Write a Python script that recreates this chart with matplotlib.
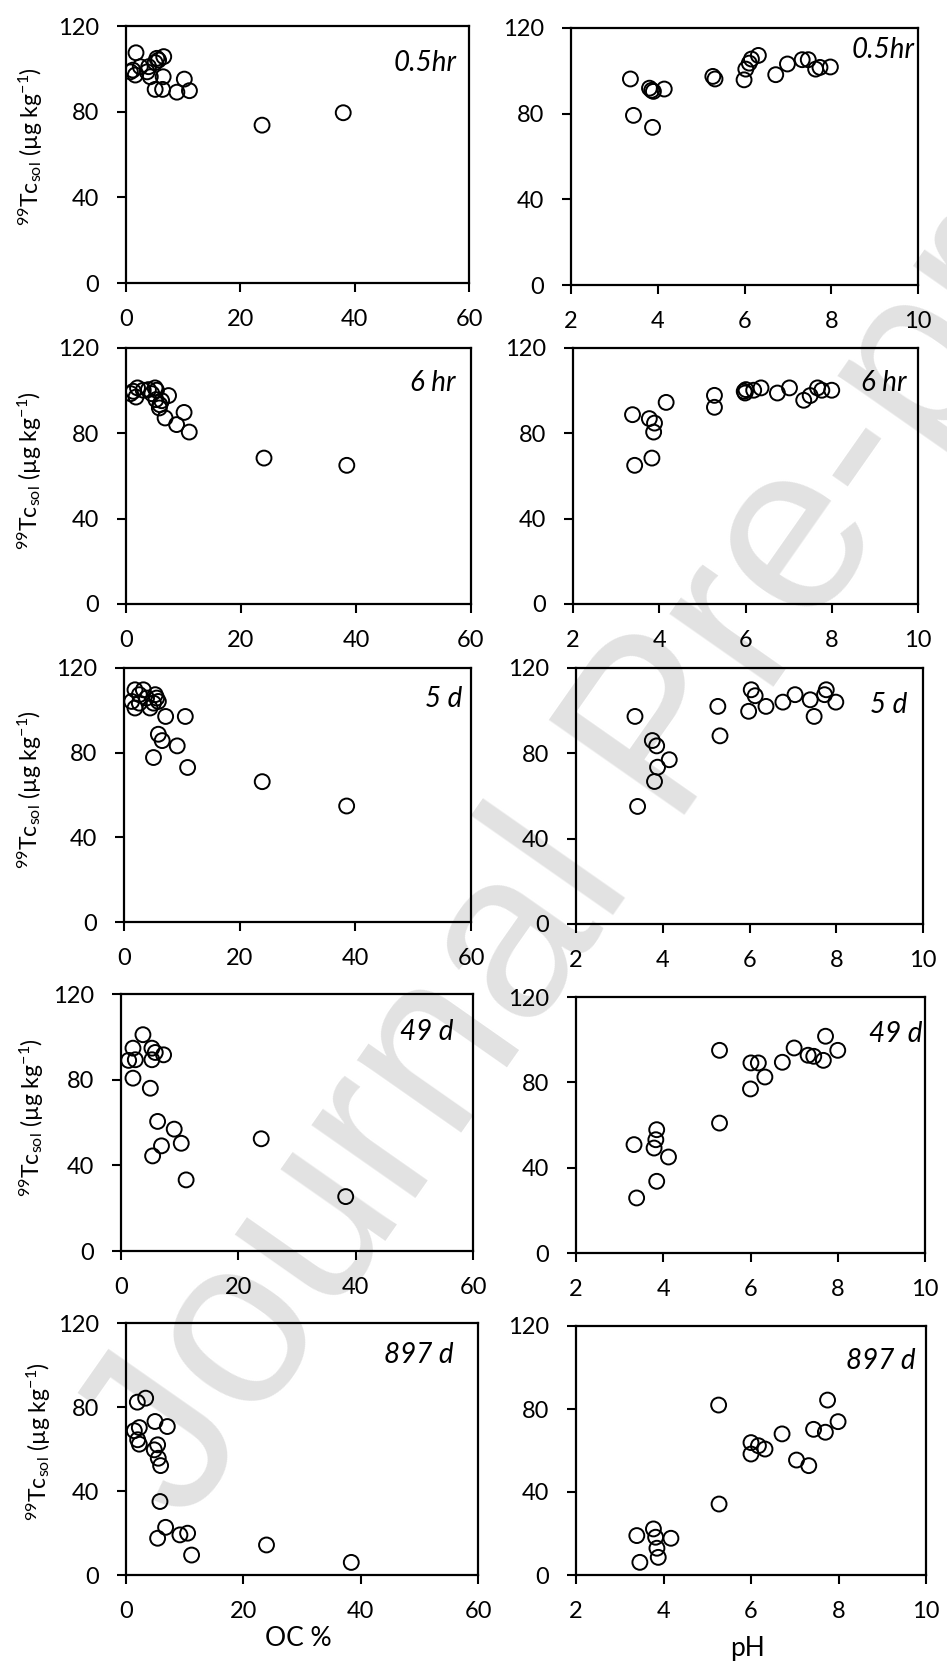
import matplotlib
matplotlib.use("Agg")
import matplotlib.pyplot as plt

plt.rcParams['font.family'] = ['Lato', 'DejaVu Sans']
plt.rcParams['mathtext.fontset'] = 'custom'
plt.rcParams['mathtext.rm'] = 'Lato'
plt.rcParams['mathtext.it'] = 'Lato:italic'

# ---------------- data ----------------
time_labels = ['0.5hr', '6 hr', '5 d', '49 d', '897 d']

oc_05 = [1.75, 0.76, 1.63, 2.5, 3.96, 4.25, 5.1, 5.7, 6.6, 6.5, 5.1, 6.4, 8.9, 10.2, 11.1, 23.8, 38.0, 1.2, 3.7, 5.4]
tc_oc_05 = [107.5, 98.6, 97.1, 101, 101, 96.3, 102.9, 104.1, 105.7, 96.3, 90.4, 90.4, 89.1, 95.2, 89.8, 73.7, 79.5, 99.4, 98.6, 104.9]
ph_05 = [3.37, 3.44, 3.81, 3.86, 3.90, 3.88, 4.15, 5.27, 5.32, 5.99, 6.03, 6.11, 6.16, 6.32, 6.72, 6.99, 7.33, 7.47, 7.64, 7.74, 7.98]
tc_ph_05 = [96.2, 79.2, 91.9, 90.9, 90.4, 73.6, 91.5, 97.4, 96.2, 95.8, 100.8, 103.6, 105.5, 107.2, 98.2, 103.2, 105.2, 105.2, 100.8, 101.6, 101.8]

oc_6h = [1.28, 1.74, 2.0, 3.0, 3.9, 5.05, 5.3, 5.2, 5.9, 5.8, 7.4, 6.8, 8.8, 10.1, 11.0, 24.0, 38.4, 0.8, 4.5, 6.2]
tc_oc_6h = [99.7, 97, 101.3, 100.2, 100.5, 101.3, 100.2, 95.8, 93.4, 91.9, 97.7, 87.2, 84.1, 89.8, 80.6, 68.4, 65.0, 98.6, 98.6, 95.3]
ph_6h = [3.38, 3.43, 3.77, 3.89, 3.87, 3.83, 4.16, 5.28, 5.28, 5.97, 6.01, 6.19, 6.36, 6.74, 7.02, 7.35, 7.50, 7.67, 7.77, 8.0, 5.99]
tc_ph_6h = [88.75, 65, 86.9, 84.8, 80.6, 68.4, 94.5, 97.8, 92.2, 99.7, 100.5, 100.2, 101.3, 98.9, 101.3, 95.5, 97.7, 101.3, 100.2, 100.2, 98.9]

oc_5d = [1.9, 1.33, 1.9, 3.35, 2.65, 4.5, 5.4, 5.65, 5.94, 5.1, 7.2, 10.6, 5.94, 6.6, 9.2, 5.1, 11.0, 23.9, 38.5, 3.9, 2.65]
tc_oc_5d = [109.7, 104.2, 101.1, 109.7, 107.4, 101.1, 107.4, 105.8, 104.2, 103.4, 97.1, 97.1, 88.7, 85.7, 83.2, 77.7, 73.0, 66.3, 54.8, 105.8, 103.4]
ph_5d = [3.36, 3.42, 3.76, 3.86, 4.15, 3.88, 3.81, 5.27, 5.32, 5.98, 6.04, 6.13, 6.38, 6.77, 7.05, 7.40, 7.49, 7.73, 7.77, 7.99]
tc_ph_5d = [97.3, 55.1, 86.0, 83.5, 77.0, 73.5, 66.8, 102.0, 88.2, 99.7, 109.8, 107.0, 102.0, 104.0, 107.5, 105.1, 97.3, 107.5, 109.8, 104.0]

oc_49d = [3.74, 2.04, 1.30, 2.44, 2.04, 5.27, 5.84, 7.26, 5.27, 5.0, 6.24, 9.07, 6.9, 10.27, 5.39, 11.1, 23.9, 38.3]
tc_oc_49d = [101.0, 94.7, 89.0, 89.3, 80.7, 94.7, 92.7, 91.6, 89.3, 76.0, 60.5, 56.9, 49.1, 50.3, 44.4, 33.2, 52.4, 25.4]
ph_49d = [3.33, 3.39, 3.85, 3.83, 3.79, 4.12, 3.85, 5.29, 5.29, 6.01, 6.18, 6.0, 6.33, 6.73, 7.0, 7.32, 7.45, 7.67, 7.72, 8.0]
tc_ph_49d = [50.8, 25.8, 57.8, 53.1, 49.2, 45.0, 33.6, 95.0, 60.9, 89.1, 89.1, 76.9, 82.5, 89.4, 96.1, 92.7, 92.2, 90.3, 101.6, 95.0]

oc_897d = [1.93, 3.35, 1.42, 2.27, 1.99, 2.27, 4.94, 7.04, 5.39, 4.82, 5.5, 5.9, 5.79, 6.75, 5.39, 9.19, 10.5, 11.18, 23.95, 38.4]
tc_oc_897d = [82.3, 84.2, 68.7, 70.2, 64.4, 62.3, 73.1, 70.7, 62.0, 59.6, 55.6, 52.1, 35.0, 22.7, 17.5, 19.1, 19.9, 9.5, 14.3, 6.0]
ph_897d = [3.39, 3.46, 3.77, 3.82, 3.85, 3.88, 4.17, 5.26, 5.27, 6.0, 6.0, 6.17, 6.32, 6.71, 7.04, 7.32, 7.43, 7.70, 7.75, 7.99]
tc_ph_897d = [19.0, 6.1, 22.2, 18.2, 12.9, 8.5, 17.7, 81.9, 34.2, 63.8, 58.3, 62.3, 60.7, 68.0, 55.4, 52.7, 70.2, 68.8, 84.3, 73.9]

oc_ticks = [0, 20, 40, 60]
ph_ticks = [2, 4, 6, 8, 10]
tc_ticks = [0, 40, 80, 120]

oc_series = [(oc_05, tc_oc_05), (oc_6h, tc_oc_6h), (oc_5d, tc_oc_5d), (oc_49d, tc_oc_49d), (oc_897d, tc_oc_897d)]
ph_series = [(ph_05, tc_ph_05), (ph_6h, tc_ph_6h), (ph_5d, tc_ph_5d), (ph_49d, tc_ph_49d), (ph_897d, tc_ph_897d)]

# ---------------- layout (pixels) ----------------
W, H = 947, 1662
fig = plt.figure(figsize=(W / 100, H / 100), dpi=100)

# (left, top, right, bottom) in pixels
left_px = [(126, 26, 469, 283), (126, 348, 471, 604), (124, 668, 471, 922),
           (121, 994, 473, 1251), (126, 1323, 478, 1575)]
right_px = [(571, 28, 918, 285), (573, 348, 918, 604), (576, 668, 923, 924),
            (576, 997, 925, 1253), (576, 1326, 926, 1575)]
# label anchor: (right x, baseline y) in pixels
left_lab = [(457, 71), (455, 391), (462, 707), (453, 1040), (453, 1363)]
right_lab = [(915, 58), (906, 391), (907, 713), (922, 1042), (915, 1369)]
ylab_x = [45, 44, 44, 46, 53]
ylab_y = [0.53, 0.52, 0.52, 0.52, 0.53]

ylabel = r'$^{99}$Tc$_{\mathrm{sol}}$ (µg kg$^{-1}$)'

def make_ax(px):
    l, t, r, b = px
    ax = fig.add_axes([l / W, 1 - b / H, (r - l) / W, (b - t) / H])
    ax.set_facecolor('none')
    for s in ax.spines.values():
        s.set_linewidth(1.6)
    ax.tick_params(direction='out', length=6.5, width=1.5, labelsize=17,
                   colors='black')
    ax.tick_params(axis='x', pad=12)
    ax.tick_params(axis='y', pad=13)
    return ax

def add_label(ax, px, lab, text):
    l, t, r, b = px
    xr, yb = lab
    ax.text((xr - l) / (r - l), (b - yb) / (b - t), text, transform=ax.transAxes,
            ha='right', va='baseline', fontsize=20, style='italic')

for i in range(5):
    # OC column
    axl = make_ax(left_px[i])
    x, y = oc_series[i]
    axl.scatter(x, y, s=115, facecolors='none', edgecolors='black', linewidths=1.4, zorder=3)
    axl.set_xlim(0, 60)
    axl.set_ylim(0, 120)
    axl.set_xticks(oc_ticks)
    axl.set_yticks(tc_ticks)
    axl.set_ylabel(ylabel, fontsize=16.5)
    l, t, r, b = left_px[i]
    axl.yaxis.set_label_coords((ylab_x[i] - l) / (r - l), ylab_y[i])
    add_label(axl, left_px[i], left_lab[i], time_labels[i])

    # pH column
    axr = make_ax(right_px[i])
    x, y = ph_series[i]
    axr.scatter(x, y, s=115, facecolors='none', edgecolors='black', linewidths=1.4, zorder=3)
    axr.set_xlim(2, 10)
    axr.set_ylim(0, 120)
    axr.set_xticks(ph_ticks)
    axr.set_yticks(tc_ticks)
    add_label(axr, right_px[i], right_lab[i], time_labels[i])

    if i == 4:
        axl.set_xlabel('OC %', fontsize=19)
        axl.xaxis.set_label_coords((298 - l) / (r - l), (b - 1626) / (b - t))
        axl.xaxis.label.set_va('top')
        lr, tr, rr, br = right_px[i]
        axr.set_xlabel('pH', fontsize=19)
        axr.xaxis.set_label_coords((748 - lr) / (rr - lr), (br - 1636) / (br - tr))
        axr.xaxis.label.set_va('top')

# watermark
fig.text(665 / W, 1 - 735 / H, 'Journal Pre-proof', rotation=55, fontsize=172,
         color='#e2e2e2', ha='center', va='center', family='Liberation Sans',
         zorder=-1)

fig.savefig('out.png', dpi=100)
